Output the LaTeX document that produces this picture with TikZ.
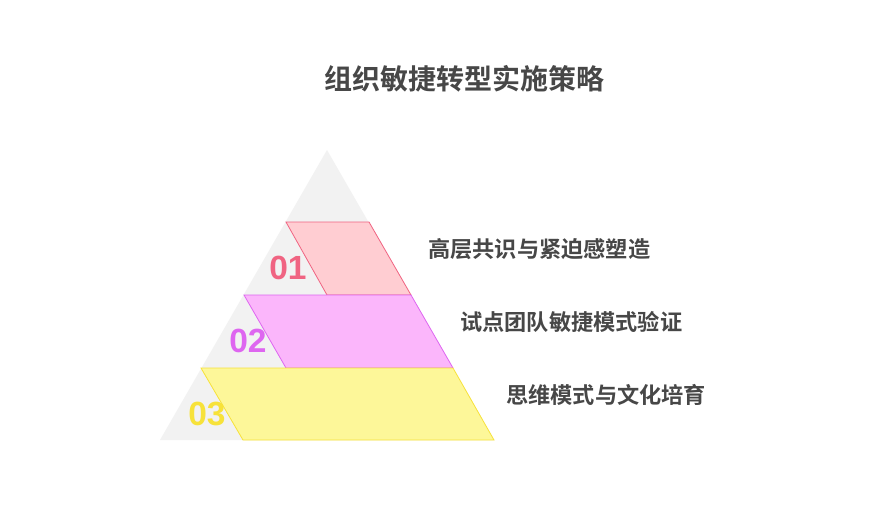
\documentclass[tikz,border=0pt]{standalone}
\usepackage{fontspec}
\setmainfont{Liberation Sans}
\newfontfamily\cjk{Noto Sans CJK SC}[BoldFont={Noto Sans CJK SC Bold}]
\begin{document}
\begin{tikzpicture}[x=1pt,y=-1pt,
  lbl/.style={font=\cjk\bfseries\fontsize{22.2}{25}\selectfont, text=black!72, anchor=west, inner sep=0pt},
  num/.style={font=\bfseries\fontsize{33.5}{36}\selectfont, inner sep=0pt},
  band/.style={line width=0.8pt, line join=miter}]
\useasboundingbox[fill=white] (0,0) rectangle (872,523);
\definecolor{tri}{HTML}{F2F2F2}
\definecolor{f1}{HTML}{FFCDD2}\definecolor{s1}{HTML}{F06482}
\definecolor{f2}{HTML}{FBB6FB}\definecolor{s2}{HTML}{DE66F0}
\definecolor{f3}{HTML}{FDF799}\definecolor{s3}{HTML}{F7E23A}
\node[font=\cjk\bfseries\fontsize{28}{31}\selectfont, text=black!72, inner sep=0pt] (title) at (464,79) {组织敏捷转型实施策略};
\fill[tri] (327,150) -- (160,440) -- (494,440) -- cycle;
\filldraw[band, fill=f1, draw=s1] (286,222) -- (369,222) -- (411,295) -- (327,295) -- cycle;
\filldraw[band, fill=f2, draw=s2] (244,295) -- (411,295) -- (453,368) -- (286,368) -- cycle;
\filldraw[band, fill=f3, draw=s3] (201,368) -- (453,368) -- (494,440) -- (243,440) -- cycle;
\node[num, text=s1] (n1) at (288,268) {01};
\node[num, text=s2] (n2) at (248,341) {02};
\node[num, text=s3] (n3) at (207,414) {03};
\node[lbl] (l1) at (428,249) {高层共识与紧迫感塑造};
\node[lbl] (l2) at (460,322) {试点团队敏捷模式验证};
\node[lbl] (l3) at (506,395) {思维模式与文化培育};
\end{tikzpicture}
\end{document}
